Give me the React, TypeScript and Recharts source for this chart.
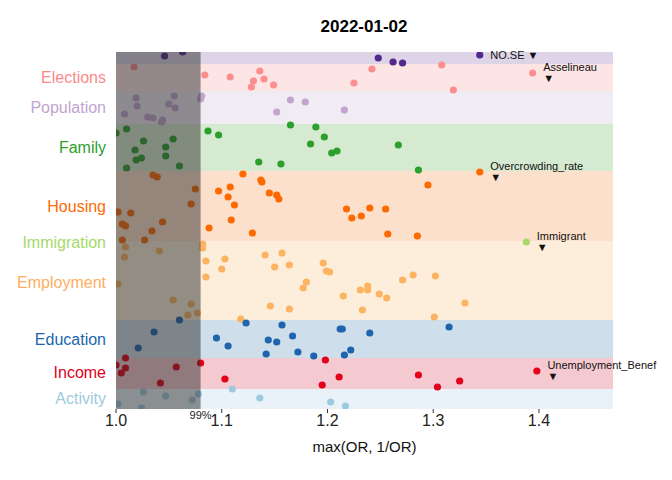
import React from "react";
import { ComposedChart, Scatter, XAxis, YAxis, ReferenceArea, ReferenceLine, LabelList } from "recharts";

const categories = ["Geography","Elections","Population","Family","Housing","Immigration","Employment","Education","Income","Activity"];
const categoryY = [7, 26, 56, 96, 155, 191, 231, 288, 321, 347];
const labelColors = ["#54278f","#f88a8a","#c2a5cf","#2ca02c","#fd6a02","#a6d96a","#fdae61","#2166ac","#e3001b","#9ecae1"];
const pointColors = ["#54278f","#fb8f8f","#c2a5cf","#2ca02c","#fd6a02","#a6d96a","#fdb462","#1f65ad","#e3001b","#9ecae1"];
const bandColors = ["#ddd4e7","#fde5e5","#f1ebf4","#d6ead1","#fde0cb","#fdeedb","#fdeedb","#cfdeeb","#f5c9d0","#e9f2f8"];
const bandFrom = [0, 12, 39, 72, 119, 189, 189, 268, 306, 337];
const bandTo = [12, 39, 72, 119, 189, 189, 268, 306, 337, 357];
const xTicks = [1.0, 1.1, 1.2, 1.3, 1.4];
const threshold = 1.08;

const geography = [[1.046,4],[1.063,0],[1.248,6],[1.262,10],[1.271,11],[1.344,3,"NO.SE ▼"]];
const elections = [[1.017,15],[1.084,23],[1.108,25],[1.136,19],[1.130,29],[1.140,27],[1.128,35],[1.149,33],[1.225,31],[1.242,17],[1.308,13],[1.319,38],[1.394,21,"Asselineau ▼"]];
const population = [[1.019,46],[1.020,54],[1.008,62],[1.030,65],[1.035,66],[1.043,70],[1.044,68],[1.050,52],[1.055,44],[1.056,56],[1.080,47],[1.081,44],[1.152,60],[1.165,48],[1.179,50],[1.216,58]];
const family = [[1.000,81],[1.010,77],[1.026,89],[1.018,98],[1.019,108],[1.024,106],[1.010,116],[1.047,95],[1.047,104],[1.054,87],[1.060,114],[1.087,79],[1.097,83],[1.135,110],[1.156,112],[1.165,73],[1.189,75],[1.197,85],[1.184,92],[1.204,101],[1.209,99],[1.267,93],[1.286,118]];
const housing = [[1.035,123],[1.039,125],[1.075,137],[1.071,152],[1.002,160],[1.014,161],[1.006,172],[1.009,174],[1.044,170],[1.034,179],[1.006,188],[1.027,188],[1.120,122],[1.137,128],[1.138,130],[1.108,135],[1.097,139],[1.106,145],[1.145,141],[1.152,143],[1.154,147],[1.112,153],[1.109,168],[1.088,176],[1.129,181],[1.295,133],[1.255,157],[1.240,156],[1.218,157],[1.223,166],[1.232,164],[1.257,182],[1.285,184],[1.344,120,"Overcrowding_rate ▼"]];
const immigration = [[1.388,190,"Immigrant ▼"]];
const employment = [[1.009,195],[1.041,199],[1.082,196],[1.082,192],[1.008,205],[1.085,209],[1.103,207],[1.100,217],[1.085,225],[1.002,232],[1.054,248],[1.071,252],[1.068,263],[1.077,261],[1.141,203],[1.157,201],[1.150,215],[1.164,213],[1.196,211],[1.199,219],[1.180,230],[1.177,236],[1.146,254],[1.164,257],[1.118,267],[1.202,220],[1.215,244],[1.231,238],[1.238,238],[1.238,234],[1.249,242],[1.256,246],[1.233,258],[1.271,228],[1.281,223],[1.302,224],[1.301,265],[1.330,251]];
const education = [[1.060,268],[1.036,280],[1.021,296],[1.123,271],[1.095,286],[1.106,294],[1.144,288],[1.152,290],[1.157,273],[1.167,284],[1.172,300],[1.142,302],[1.187,304],[1.212,277],[1.214,277],[1.240,281],[1.222,298],[1.216,303],[1.315,275]];
const income = [[1.000,313],[1.009,306],[1.005,321],[1.009,316],[1.057,315],[1.042,331],[1.080,311],[1.103,327],[1.198,308],[1.195,333],[1.211,325],[1.286,323],[1.304,335],[1.325,329],[1.398,319,"Unemployment_Benef ▼"]];
const activity = [[1.026,340],[1.047,344],[1.002,352],[1.024,356],[1.072,348],[1.078,342],[1.110,337],[1.136,346],[1.203,350],[1.217,354]];

const groups = [geography, elections, population, family, housing, immigration, employment, education, income, activity];
const FONT = "'Liberation Sans', Arial, sans-serif";

const CatTick = (props: any) => {
  const { x, y, payload } = props;
  const i = categoryY.indexOf(payload.value);
  return (
    <text x={x - 2} y={y} dy={5} textAnchor="end" fontSize={16} fontFamily={FONT} fill={labelColors[i]}>
      {categories[i]}
    </text>
  );
};

export default function App() {
  return (
    <div style={{ position: "relative", width: 656, height: 464, fontFamily: FONT }}>
      <div style={{ position: "absolute", top: 9, left: 306, width: 100, textAlign: "center", fontWeight: "bold", fontSize: 17 }}>2022-01-02</div>
      <ComposedChart width={656} height={464} margin={{ top: 44, right: 51, bottom: 20, left: 0 }}>
        <XAxis type="number" dataKey="x" domain={[1.0, 1.47]} ticks={xTicks} tickFormatter={(v: number) => v.toFixed(1)}
          axisLine={false} tick={{ fontSize: 16, fill: "#222", fontFamily: FONT }} tickSize={4} tickLine={{ stroke: "#333" }} height={43}
          allowDataOverflow label={{ value: "max(OR, 1/OR)", position: "insideBottom", offset: 0, fontSize: 15, fill: "#111", fontFamily: FONT }} />
        <YAxis type="number" dataKey="y" domain={[0, 357]} reversed ticks={categoryY} tick={<CatTick />} axisLine={false} tickLine={false} width={108} allowDataOverflow />
        {bandColors.map((c, i) => bandTo[i] > bandFrom[i] ? (
          <ReferenceArea key={"b" + i} x1={1.0} x2={1.47} y1={bandFrom[i]} y2={bandTo[i]} fill={c} fillOpacity={1} stroke="none" ifOverflow="visible" />
        ) : null)}
        {groups.map((g, i) => (
          <Scatter key={"s" + i} data={g.map((p) => ({ x: p[0], y: p[1], label: p[2] }))} fill={pointColors[i]} isAnimationActive={false}
            shape={(p: any) => <circle cx={p.cx} cy={p.cy} r={3.6} fill={pointColors[i]} />}>
            <LabelList dataKey="label" position="right" offset={6} fontSize={11} fill="#111" fontFamily={FONT} />
          </Scatter>
        ))}
        <ReferenceArea x1={1.0} x2={threshold} y1={0} y2={357} fill="#2b2b2b" fillOpacity={0.5} stroke="none" zIndex={1000} />
        <ReferenceLine x={threshold} stroke="none" label={{ value: "99%", position: "bottom", offset: 2, fontSize: 11, fill: "#222", fontFamily: FONT }} />
      </ComposedChart>
    </div>
  );
}
